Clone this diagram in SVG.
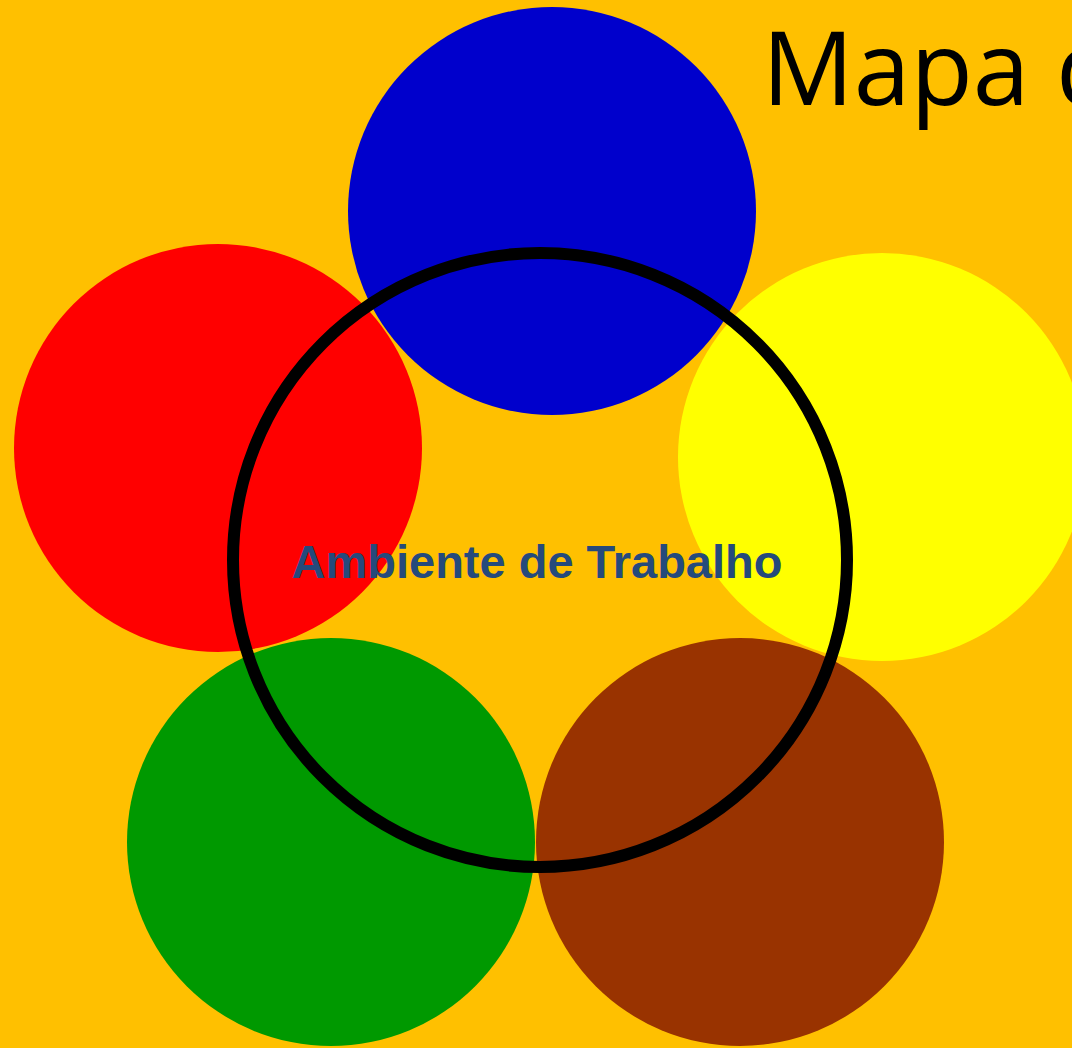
<svg xmlns="http://www.w3.org/2000/svg" width="1072" height="1048" viewBox="0 0 1072 1048">
  <style>
    .petal { stroke: none; }
    .ring { fill: none; stroke: #000000; stroke-width: 12; }
    .title { font-family: "Open Sans", "Liberation Sans", sans-serif; font-size: 102px; fill: #000000; }
    .label { font-family: "Liberation Sans", Arial, sans-serif; font-weight: bold; font-size: 47px; fill: #254A7C; }
  </style>
  <rect x="0" y="0" width="1072" height="1048" fill="#FFC000"/>
  <g id="title">
    <text class="title" x="762" y="105">Mapa d</text>
  </g>
  <g id="node-red"><circle class="petal" cx="218" cy="448" r="204" fill="#FF0000"/></g>
  <g id="node-blue"><circle class="petal" cx="552" cy="211" r="204" fill="#0000CC"/></g>
  <g id="node-yellow"><circle class="petal" cx="882" cy="457" r="204" fill="#FFFF00"/></g>
  <g id="node-green"><circle class="petal" cx="331" cy="842" r="204" fill="#009900"/></g>
  <g id="node-brown"><circle class="petal" cx="740" cy="842" r="204" fill="#993300"/></g>
  <g id="node-center">
    <circle class="ring" cx="540" cy="560" r="307"/>
    <text class="label" x="537" y="578" text-anchor="middle">Ambiente de Trabalho</text>
  </g>
  <g id="connectors"></g>
</svg>
